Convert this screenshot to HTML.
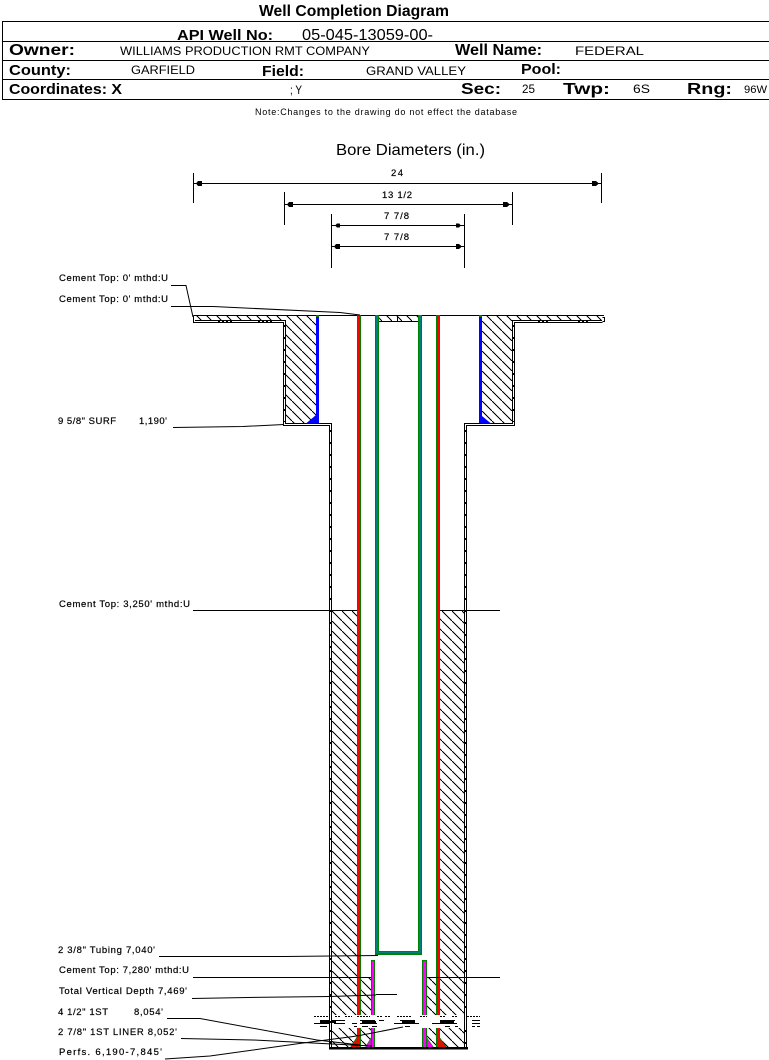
<!DOCTYPE html>
<html>
<head>
<meta charset="utf-8">
<style>
html,body{margin:0;padding:0;background:#fff;width:769px;height:1060px;overflow:hidden}
svg{display:block}
text{font-family:"Liberation Sans",sans-serif;fill:#000;text-rendering:optimizeSpeed}
.l{font-size:9.5px;stroke:#000;stroke-width:.2px}
.b{font-weight:bold}
.h{font-size:12px}
</style>
</head>
<body>
<svg width="769" height="1060" viewBox="0 0 769 1060" xmlns="http://www.w3.org/2000/svg">
<defs>
<pattern id="h" patternUnits="userSpaceOnUse" width="10" height="10" x="2" y="1">
<path d="M-1 -1L11 11" stroke="#000" stroke-width="1" fill="none" shape-rendering="crispEdges"/>
</pattern>
</defs>

<text x="259" y="16" class="b" font-size="16" textLength="190" lengthAdjust="spacingAndGlyphs">Well Completion Diagram</text>

<g shape-rendering="crispEdges" stroke="#000" fill="none">
<path d="M769 21.5H2.5V99.5H769M3 41.5H769M3 60.5H769M3 79.5H769"/>
</g>

<text x="177" y="40" class="b" font-size="15" textLength="96" lengthAdjust="spacingAndGlyphs">API Well No:</text>
<text x="302" y="40" font-size="16" textLength="131" lengthAdjust="spacingAndGlyphs">05-045-13059-00-</text>
<text x="9" y="55" class="b" font-size="16" textLength="66" lengthAdjust="spacingAndGlyphs">Owner:</text>
<text x="120" y="55" class="h" textLength="250" lengthAdjust="spacingAndGlyphs">WILLIAMS PRODUCTION RMT COMPANY</text>
<text x="455" y="55" class="b" font-size="16" textLength="87" lengthAdjust="spacingAndGlyphs">Well Name:</text>
<text x="575" y="55" class="h" textLength="69" lengthAdjust="spacingAndGlyphs">FEDERAL</text>
<text x="9" y="75" class="b" font-size="15" textLength="62" lengthAdjust="spacingAndGlyphs">County:</text>
<text x="131" y="74" class="h" textLength="64" lengthAdjust="spacingAndGlyphs">GARFIELD</text>
<text x="262" y="76" class="b" font-size="15" textLength="42" lengthAdjust="spacingAndGlyphs">Field:</text>
<text x="366" y="75" class="h" textLength="100" lengthAdjust="spacingAndGlyphs">GRAND VALLEY</text>
<text x="521" y="74" class="b" font-size="15" textLength="40" lengthAdjust="spacingAndGlyphs">Pool:</text>
<text x="9" y="94" class="b" font-size="15" textLength="113" lengthAdjust="spacingAndGlyphs">Coordinates: X</text>
<text x="290" y="94" class="h" textLength="12" lengthAdjust="spacingAndGlyphs">; Y</text>
<text x="461" y="94" class="b" font-size="16" textLength="40" lengthAdjust="spacingAndGlyphs">Sec:</text>
<text x="522" y="93" class="h" textLength="13" lengthAdjust="spacingAndGlyphs">25</text>
<text x="563" y="94" class="b" font-size="16" textLength="47" lengthAdjust="spacingAndGlyphs">Twp:</text>
<text x="633" y="93" class="h" textLength="17" lengthAdjust="spacingAndGlyphs">6S</text>
<text x="687" y="94" class="b" font-size="16" textLength="45" lengthAdjust="spacingAndGlyphs">Rng:</text>
<text x="744" y="93" font-size="11" textLength="23" lengthAdjust="spacingAndGlyphs">96W</text>
<text x="255" y="115" font-size="9" textLength="262">Note:Changes to the drawing do not effect the database</text>

<text x="336" y="155" font-size="16" textLength="149" lengthAdjust="spacingAndGlyphs">Bore Diameters (in.)</text>

<g shape-rendering="crispEdges" stroke="#000" fill="none">
<path d="M193.5 173V203M601.5 173V203M194 183.5H601"/>
<path d="M284.5 192V225M512.5 192V225M285 204.5H512"/>
<path d="M331.5 214V268M464.5 214V268M332 225.5H464M332 246.5H464"/>
</g>
<g fill="#000">
<path d="M196 183.5L198 181H202V186H198ZM599 183.5L596 181H592V186H596Z"/>
<path d="M287 204.5L289 202H293V207H289ZM510 204.5L507 202H503V207H507Z"/>
<path d="M335 225.5L337 223.5H340V227.5H337ZM461 225.5L459 223.5H456V227.5H459Z"/>
<path d="M334 246.5L336 244H340V249H336ZM462 246.5L459 244H456V249H459Z"/>
</g>
<text x="391" y="176" class="l" textLength="12">24</text>
<text x="382" y="198" class="l" textLength="30">13 1/2</text>
<text x="384" y="219" class="l" textLength="25">7 7/8</text>
<text x="384" y="240" class="l" textLength="25">7 7/8</text>

<!-- hatch -->
<g fill="url(#h)">
<rect x="193" y="316" width="90" height="5"/>
<rect x="285" y="316" width="31" height="107"/>
<rect x="515" y="316" width="87" height="5"/>
<rect x="482" y="316" width="30" height="107"/>
<rect x="379" y="316" width="39" height="5"/>
<rect x="332" y="611" width="25" height="437"/>
<rect x="440" y="611" width="24" height="437"/>
<rect x="361" y="978" width="10" height="70"/>
<rect x="427" y="978" width="9" height="70"/>
</g>

<!-- walls -->
<g shape-rendering="crispEdges" stroke="#000" fill="none">
<path d="M193.5 315.5H604M193.5 315.5V322.5H283.5V425.5H329.5V1048M195 320.5H285.5V423.5H331.5V1048"/>
<path d="M602.5 317.5H604.5V321.5H602.5M602.5 322.5H514.5V425.5H466.5V1048M602 320.5H512.5V423.5H464.5V1048"/>
<path d="M379 321.5H418M397.5 316V321"/>
<path d="M330.5 430V1046M465.5 430V1046M284.5 325V422M513.5 325V422" stroke-dasharray="2 10"/>
<path d="M218 321.5H232M258 321.5H272M538 321.5H550M578 321.5H590" stroke-dasharray="2 2"/>
</g>

<!-- casings -->
<g shape-rendering="crispEdges">
<rect x="357" y="315" width="4" height="733" fill="#008000"/><rect x="358" y="315" width="2" height="733" fill="#f00"/>
<rect x="436" y="315" width="4" height="733" fill="#008000"/><rect x="437" y="315" width="2" height="733" fill="#f00"/>
<path d="M375 315h4v636h39v-636h4v640h-47z" fill="#008000"/>
<path d="M376 315h2v637h41v-637h2v638h-45z" fill="#008080"/>
<rect x="316" y="315" width="3" height="108" fill="#00f"/><rect x="316" y="315" width="3" height="2" fill="#008000"/>
<rect x="479" y="315" width="3" height="108" fill="#00f"/><rect x="479" y="315" width="3" height="2" fill="#008000"/>
<rect x="371" y="960" width="4" height="88" fill="#008000"/><rect x="372" y="961" width="2" height="87" fill="#f0f"/>
<rect x="422" y="960" width="5" height="88" fill="#008000"/><rect x="423" y="961" width="3" height="87" fill="#f0f"/>
</g>
<g>
<path d="M306 423.5L316 415V423.5Z" fill="#00f"/>
<path d="M482 416L491 423.5H482Z" fill="#00f"/>
<path d="M350 1048L357 1037V1048Z" fill="#f00" stroke="#008000" stroke-width=".6"/>
<path d="M440 1038L447 1048H440Z" fill="#f00" stroke="#008000" stroke-width=".6"/>
<path d="M365 1048L371 1038V1048Z" fill="#f0f" stroke="#008000" stroke-width=".6"/>
<path d="M427 1038L434 1048H427Z" fill="#f0f" stroke="#008000" stroke-width=".6"/>
</g>
<rect x="361" y="1047" width="10" height="1" fill="#008000" shape-rendering="crispEdges"/>

<!-- break -->
<rect x="314" y="1015" width="169" height="13" fill="#fff"/>
<g shape-rendering="crispEdges" stroke="#000" fill="none">
<path d="M329.5 1014V1029M331.5 1014V1029M464.5 1014V1029M466.5 1014V1029"/>
<path d="M314 1016.5H330M335 1016.5H340M345 1016.5H352M357 1016.5H370M377 1016.5H382M385 1016.5H390M397 1016.5H412M420 1016.5H427M440 1016.5H445M452 1016.5H457M467 1016.5H480" stroke-dasharray="2 1"/>
<path d="M320 1020.5H329M332 1020.5H345M360 1020.5H375M379 1020.5H384M400 1020.5H415M440 1020.5H455M472 1020.5H480"/>
<path d="M314 1023.5H330M334 1023.5H345M352 1023.5H357M360 1023.5H377M394 1023.5H419M432 1023.5H457M472 1023.5H480"/>
<path d="M320 1026.5H327M354 1026.5H357M362 1026.5H368M372 1026.5H377M405 1026.5H410M445 1026.5H450M455 1026.5H458M472 1026.5H475M477 1026.5H480"/>
</g>
<g shape-rendering="crispEdges" fill="#000">
<rect x="320" y="1021" width="16" height="2"/>
<rect x="362" y="1021" width="14" height="2"/>
<rect x="402" y="1021" width="13" height="2"/>
<rect x="440" y="1021" width="14" height="2"/>
</g>

<rect x="329" y="1047" width="139" height="2.5" fill="#000" shape-rendering="crispEdges"/>

<!-- leaders -->
<g fill="none" stroke="#000" stroke-width="1">
<path d="M171 285.5H186L193 317"/>
<path d="M171 306.5H213L340 312.5L360 315"/>
<path d="M173 427.5L243 426.5L284 424.5"/>
<path d="M193 610.5H357M440 610.5H500" shape-rendering="crispEdges"/>
<path d="M159 956.5H285L378 955.5"/>
<path d="M193 977.5H371M427 977.5H500" shape-rendering="crispEdges"/>
<path d="M192 998.5L248 997.5L330 996.5L376 995M376 994.5H397"/>
<path d="M167 1018.5H200L317 1040L360 1045"/>
<path d="M181 1038.5L253 1040L332 1044L372 1046"/>
<path d="M165 1059L210 1056L303 1043L357 1036L403 1027"/>
</g>

<!-- labels -->
<text x="59" y="281" class="l" textLength="109">Cement Top: 0' mthd:U</text>
<text x="59" y="302" class="l" textLength="109">Cement Top: 0' mthd:U</text>
<text x="58" y="424" class="l" textLength="58">9 5/8" SURF</text>
<text x="139" y="424" class="l" textLength="28">1,190'</text>
<text x="59" y="607" class="l" textLength="131">Cement Top: 3,250' mthd:U</text>
<text x="58" y="953" class="l" textLength="97">2 3/8" Tubing 7,040'</text>
<text x="59" y="973" class="l" textLength="130">Cement Top: 7,280' mthd:U</text>
<text x="59" y="994" class="l" textLength="128">Total Vertical Depth 7,469'</text>
<text x="58" y="1015" class="l" textLength="50">4 1/2" 1ST</text>
<text x="134" y="1015" class="l" textLength="29">8,054'</text>
<text x="58" y="1035" class="l" textLength="119">2 7/8" 1ST LINER  8,052'</text>
<text x="59" y="1055" class="l" textLength="103">Perfs. 6,190-7,845'</text>
</svg>
</body>
</html>
